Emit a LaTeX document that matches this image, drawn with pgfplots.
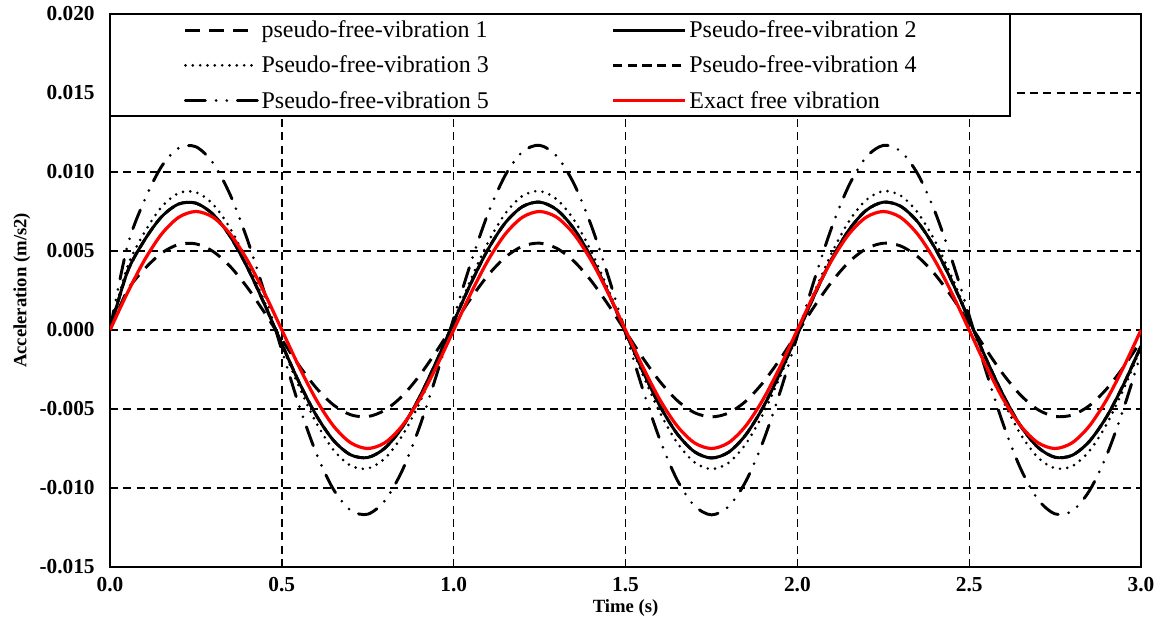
\documentclass[border=0pt]{standalone}
\usepackage{fontspec}
\setmainfont{Liberation Serif}
\usepackage{pgfplots}
\usepackage{pgfplotstable}
\pgfplotsset{compat=1.18}

\pgfplotstableread{
t p1 p2 p3 p5 ex
0.00 0 0 0 0 0
0.05 0.002474 0.003644 0.003959 0.005264 0.002318
0.10 0.003852 0.005673 0.006164 0.008195 0.004409
0.15 0.004865 0.007165 0.007784 0.010350 0.006068
0.20 0.005415 0.007975 0.008664 0.011520 0.007133
0.25 0.005451 0.008028 0.008722 0.011596 0.007500
0.30 0.004969 0.007318 0.007951 0.010571 0.007133
0.35 0.004016 0.005915 0.006426 0.008543 0.006068
0.40 0.002680 0.003947 0.004288 0.005701 0.004409
0.45 0.001090 0.001605 0.001744 0.002319 0.002318
0.50 -0.000603 -0.000889 -0.000965 -0.001283 0
0.55 -0.002240 -0.003298 -0.003583 -0.004764 -0.002318
0.60 -0.003663 -0.005395 -0.005861 -0.007792 -0.004409
0.65 -0.004739 -0.006979 -0.007582 -0.010081 -0.006068
0.70 -0.005364 -0.007899 -0.008582 -0.011410 -0.007133
0.75 -0.005480 -0.008070 -0.008767 -0.011657 -0.007500
0.80 -0.005075 -0.007474 -0.008120 -0.010796 -0.007133
0.85 -0.004188 -0.006168 -0.006701 -0.008910 -0.006068
0.90 -0.002903 -0.004275 -0.004645 -0.006175 -0.004409
0.95 -0.001343 -0.001977 -0.002148 -0.002856 -0.002318
1.00 0.000345 0.000509 0.000553 0.000735 0
1.05 0.002000 0.002946 0.003201 0.004255 0.002318
1.10 0.003466 0.005105 0.005546 0.007373 0.004409
1.15 0.004602 0.006778 0.007364 0.009791 0.006068
1.20 0.005300 0.007806 0.008481 0.011275 0.007133
1.25 0.005496 0.008094 0.008793 0.011691 0.007500
1.30 0.005169 0.007612 0.008270 0.010996 0.007133
1.35 0.004352 0.006409 0.006963 0.009257 0.006068
1.40 0.003120 0.004594 0.004991 0.006636 0.004409
1.45 0.001592 0.002345 0.002548 0.003387 0.002318
1.50 -0.000086 -0.000127 -0.000138 -0.000184 0
1.55 -0.001757 -0.002588 -0.002812 -0.003738 -0.002318
1.60 -0.003260 -0.004802 -0.005217 -0.006936 -0.004409
1.65 -0.004454 -0.006560 -0.007127 -0.009476 -0.006068
1.70 -0.005226 -0.007696 -0.008361 -0.011116 -0.007133
1.75 -0.005500 -0.008100 -0.008800 -0.011700 -0.007500
1.80 -0.005252 -0.007735 -0.008403 -0.011172 -0.007133
1.85 -0.004505 -0.006635 -0.007208 -0.009583 -0.006068
1.90 -0.003329 -0.004903 -0.005327 -0.007082 -0.004409
1.95 -0.001839 -0.002708 -0.002942 -0.003911 -0.002318
2.00 -0.000173 -0.000254 -0.000276 -0.000367 0
2.05 0.001510 0.002223 0.002416 0.003212 0.002318
2.10 0.003049 0.004490 0.004878 0.006485 0.004409
2.15 0.004297 0.006328 0.006875 0.009140 0.006068
2.20 0.005139 0.007568 0.008222 0.010931 0.007133
2.25 0.005492 0.008088 0.008787 0.011682 0.007500
2.30 0.005323 0.007839 0.008517 0.011323 0.007133
2.35 0.004649 0.006847 0.007439 0.009890 0.006068
2.40 0.003533 0.005203 0.005652 0.007515 0.004409
2.45 0.002081 0.003064 0.003329 0.004426 0.002318
2.50 0.000432 0.000636 0.000691 0.000918 0
2.55 -0.001259 -0.001854 -0.002014 -0.002678 -0.002318
2.60 -0.002829 -0.004167 -0.004527 -0.006018 -0.004409
2.65 -0.004130 -0.006082 -0.006608 -0.008786 -0.006068
2.70 -0.005041 -0.007424 -0.008065 -0.010723 -0.007133
2.75 -0.005471 -0.008058 -0.008754 -0.011639 -0.007500
2.80 -0.005382 -0.007927 -0.008612 -0.011450 -0.007133
2.85 -0.004782 -0.007042 -0.007651 -0.010172 -0.006068
2.90 -0.003727 -0.005489 -0.005964 -0.007929 -0.004409
2.95 -0.002318 -0.003414 -0.003709 -0.004932 -0.002318
3.00 -0.000689 -0.001015 -0.001103 -0.001466 0
}\data

\begin{document}
\begin{tikzpicture}
\begin{axis}[
  width=773.25pt, height=414.75pt, scale only axis,
  xmin=0, xmax=3, ymin=-0.015, ymax=0.020,
  xtick={0,0.5,1,1.5,2,2.5,3},
  ytick={-0.015,-0.010,-0.005,0,0.005,0.010,0.015,0.020},
  scaled y ticks=false, scaled x ticks=false,
  /pgf/number format/assume math mode=true,
  yticklabel style={/pgf/number format/.cd, fixed, fixed zerofill, precision=3, /tikz/.cd, font=\fontsize{16}{18}\selectfont\bfseries, xshift=-8pt},
  xticklabel style={/pgf/number format/.cd, fixed, fixed zerofill, precision=1, /tikz/.cd, font=\fontsize{16}{18}\selectfont\bfseries, yshift=-4.5pt},
  grid=major,
  major grid style={black, line width=1pt, dash pattern=on 6pt off 4pt},
  axis line style={line width=1.5pt},
  tick style={black, line width=1pt},
  tick align=inside, major tick length=4pt,
  xlabel={Time (s)}, ylabel={Acceleration (m/s2)},
  label style={font=\fontsize{14}{16}\selectfont\bfseries},
  xlabel style={yshift=1pt},
  legend columns=2,
  legend cell align=left,
  legend style={at={(0,1)}, anchor=north west, draw=black, line width=1pt, fill=white,
    font=\fontsize{18}{20}\selectfont, inner xsep=55pt, inner ysep=2.5pt, row sep=8.25pt,
    /tikz/every even column/.append style={column sep=90pt}},
  legend image code/.code={\draw[#1] (0pt,0pt) -- (54pt,0pt);},
]
\addplot[black, line width=2.2pt, dash pattern=on 11pt off 7pt, smooth] table[x=t,y=p1]{\data};
\addlegendentry{pseudo-free-vibration 1}
\addplot[black, line width=2.2pt, smooth] table[x=t,y=p2]{\data};
\addlegendentry{Pseudo-free-vibration 2\hspace*{13pt}}
\addplot[black, line width=2.2pt, dash pattern=on 0pt off 5.5pt, line cap=round, smooth] table[x=t,y=p3]{\data};
\addlegendentry{Pseudo-free-vibration 3}
\addplot[black, line width=2.2pt, dash pattern=on 7pt off 4pt, smooth] table[x=t,y=p2]{\data};
\addlegendentry{Pseudo-free-vibration 4}
\addplot[black, line width=2.2pt, line cap=round, dash pattern=on 15pt off 8pt on 0pt off 8pt on 0pt off 8pt, smooth] table[x=t,y=p5]{\data};
\addlegendentry{Pseudo-free-vibration 5}
\addplot[red, line width=2.4pt, smooth] table[x=t,y=ex]{\data};
\addlegendentry{Exact free vibration}
\end{axis}
\pgfresetboundingbox
\path[use as bounding box] ([shift={(-82.5pt,-43.5pt)}]current axis.south west) rectangle ([shift={(15pt,10.5pt)}]current axis.north east);
\end{tikzpicture}
\end{document}
